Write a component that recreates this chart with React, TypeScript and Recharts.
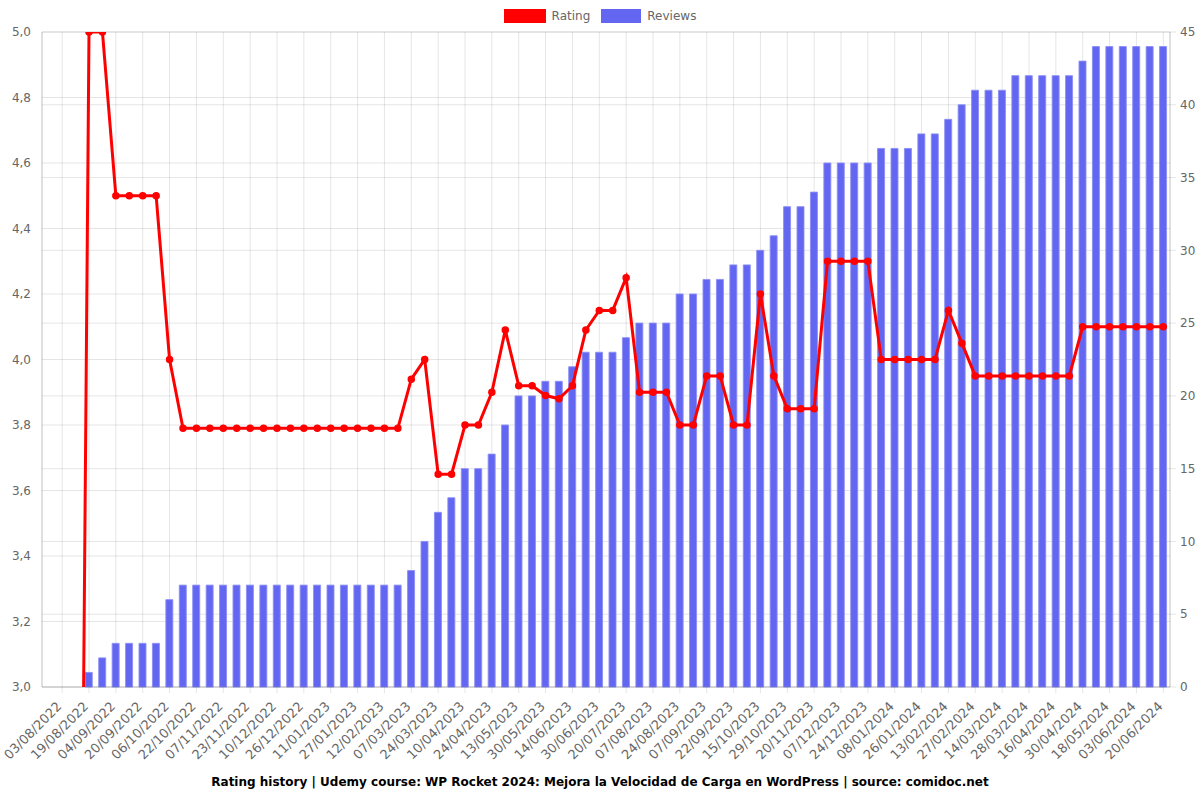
import { ComposedChart, Bar, Line, XAxis, YAxis, CartesianGrid } from "recharts";

// one entry per week-ish snapshot; only the odd ones get a visible label
const dates = [
  "26/07/2022", "03/08/2022", "11/08/2022", "19/08/2022", "27/08/2022", "04/09/2022",
  "12/09/2022", "20/09/2022", "28/09/2022", "06/10/2022", "14/10/2022", "22/10/2022",
  "30/10/2022", "07/11/2022", "15/11/2022", "23/11/2022", "01/12/2022", "10/12/2022",
  "18/12/2022", "26/12/2022", "03/01/2023", "11/01/2023", "19/01/2023", "27/01/2023",
  "04/02/2023", "12/02/2023", "23/02/2023", "07/03/2023", "15/03/2023", "24/03/2023",
  "02/04/2023", "10/04/2023", "17/04/2023", "24/04/2023", "03/05/2023", "13/05/2023",
  "21/05/2023", "30/05/2023", "06/06/2023", "14/06/2023", "22/06/2023", "30/06/2023",
  "10/07/2023", "20/07/2023", "29/07/2023", "07/08/2023", "15/08/2023", "24/08/2023",
  "31/08/2023", "07/09/2023", "14/09/2023", "22/09/2023", "03/10/2023", "15/10/2023",
  "22/10/2023", "29/10/2023", "09/11/2023", "20/11/2023", "28/11/2023", "07/12/2023",
  "15/12/2023", "24/12/2023", "01/01/2024", "08/01/2024", "17/01/2024", "26/01/2024",
  "04/02/2024", "13/02/2024", "20/02/2024", "27/02/2024", "06/03/2024", "14/03/2024",
  "21/03/2024", "28/03/2024", "07/04/2024", "16/04/2024", "23/04/2024", "30/04/2024",
  "09/05/2024", "18/05/2024", "26/05/2024", "03/06/2024", "11/06/2024", "20/06/2024",
];

const rating = [
  0, 0, 0, 5.0, 5.0, 4.5, 4.5, 4.5, 4.5, 4.0,
  3.79, 3.79, 3.79, 3.79, 3.79, 3.79, 3.79, 3.79, 3.79, 3.79,
  3.79, 3.79, 3.79, 3.79, 3.79, 3.79, 3.79, 3.94, 4.0, 3.65,
  3.65, 3.8, 3.8, 3.9, 4.09, 3.92, 3.92, 3.89, 3.88, 3.92,
  4.09, 4.15, 4.15, 4.25, 3.9, 3.9, 3.9, 3.8, 3.8, 3.95,
  3.95, 3.8, 3.8, 4.2, 3.95, 3.85, 3.85, 3.85, 4.3, 4.3,
  4.3, 4.3, 4.0, 4.0, 4.0, 4.0, 4.0, 4.15, 4.05, 3.95,
  3.95, 3.95, 3.95, 3.95, 3.95, 3.95, 3.95, 4.1, 4.1, 4.1,
  4.1, 4.1, 4.1, 4.1,
];

const reviews = [
  0, 0, 0, 1, 2, 3, 3, 3, 3, 6,
  7, 7, 7, 7, 7, 7, 7, 7, 7, 7,
  7, 7, 7, 7, 7, 7, 7, 8, 10, 12,
  13, 15, 15, 16, 18, 20, 20, 21, 21, 22,
  23, 23, 23, 24, 25, 25, 25, 27, 27, 28,
  28, 29, 29, 30, 31, 33, 33, 34, 36, 36,
  36, 36, 37, 37, 37, 38, 38, 39, 40, 41,
  41, 41, 42, 42, 42, 42, 42, 43, 44, 44,
  44, 44, 44, 44,
];

const ratingTicks = [3.0, 3.2, 3.4, 3.6, 3.8, 4.0, 4.2, 4.4, 4.6, 4.8, 5.0];
const reviewTicks = [0, 5, 10, 15, 20, 25, 30, 35, 40, 45];
const dateTicks = dates.filter((_, i) => i % 2 === 1);

const data = dates.map((date, i) => ({ date, rating: rating[i], reviews: reviews[i] }));

const FONT = "'DejaVu Sans', sans-serif";
const GRID = "rgba(0,0,0,0.1)";
const tickStyle = { fontSize: 12, fill: "#666", fontFamily: FONT };

// rotated date label, right end sits just left of the tick
function DateTick(props: any) {
  const { x, y, payload } = props;
  return (
    <g transform={`translate(${x - 3},${y + 9})`}>
      <text transform="rotate(-45)" textAnchor="end" dy="0.35em" fontSize={13} fill="#666" fontFamily={FONT}>
        {payload.value}
      </text>
    </g>
  );
}

export default function App() {
  return (
    <div style={{ position: "absolute", left: 0, top: 0, width: 1200, height: 800, background: "#fff", fontFamily: FONT }}>
      <div style={{ position: "absolute", top: 8, left: 0, width: 1200, display: "flex", justifyContent: "center", alignItems: "center", fontSize: 12, color: "#666", height: 16 }}>
        <span style={{ display: "inline-block", width: 42, height: 14, background: "#ff0000", marginRight: 6 }} />
        <span style={{ marginRight: 11 }}>Rating</span>
        <span style={{ display: "inline-block", width: 40, height: 14, background: "#6366f1", marginRight: 6 }} />
        <span>Reviews</span>
      </div>

      <ComposedChart width={1200} height={800} data={data} margin={{ top: 32, right: 0, bottom: 33, left: 0 }}>
        <CartesianGrid yAxisId="rating" stroke={GRID} vertical={true} />
        <CartesianGrid yAxisId="reviews" stroke={GRID} vertical={false} />
        <XAxis
          dataKey="date"
          ticks={dateTicks}
          interval={0}
          height={80}
          tick={<DateTick />}
          tickLine={{ stroke: GRID }}
          axisLine={{ stroke: "rgba(0,0,0,0.15)" }}
        />
        <YAxis
          yAxisId="rating"
          orientation="left"
          width={42}
          domain={[3, 5]}
          ticks={ratingTicks}
          allowDataOverflow
          tickFormatter={(v: number) => v.toFixed(1).replace(".", ",")}
          tick={tickStyle}
          tickLine={false}
          tickMargin={5}
          axisLine={{ stroke: "rgba(0,0,0,0.15)" }}
        />
        <YAxis
          yAxisId="reviews"
          orientation="right"
          width={30}
          domain={[0, 45]}
          ticks={reviewTicks}
          tick={tickStyle}
          tickLine={{ stroke: GRID }}
          tickMargin={4}
          axisLine={{ stroke: "rgba(0,0,0,0.15)" }}
        />
        <Bar
          yAxisId="reviews"
          dataKey="reviews"
          fill="#6366f1"
          stroke="rgba(140,143,245,0.9)"
          strokeWidth={1}
          barSize={7}
          isAnimationActive={false}
        />
        <Line
          yAxisId="rating"
          dataKey="rating"
          type="linear"
          stroke="#ff0000"
          strokeWidth={3}
          dot={{ r: 3, fill: "#ff0000", stroke: "#ff0000", strokeWidth: 1.5 }}
          activeDot={false}
          isAnimationActive={false}
        />
      </ComposedChart>

      <div style={{ position: "absolute", top: 775, left: 0, width: 1200, textAlign: "center", fontSize: 12, fontWeight: "bold", color: "#000" }}>
        Rating history | Udemy course: WP Rocket 2024: Mejora la Velocidad de Carga en WordPress | source: comidoc.net
      </div>
    </div>
  );
}
